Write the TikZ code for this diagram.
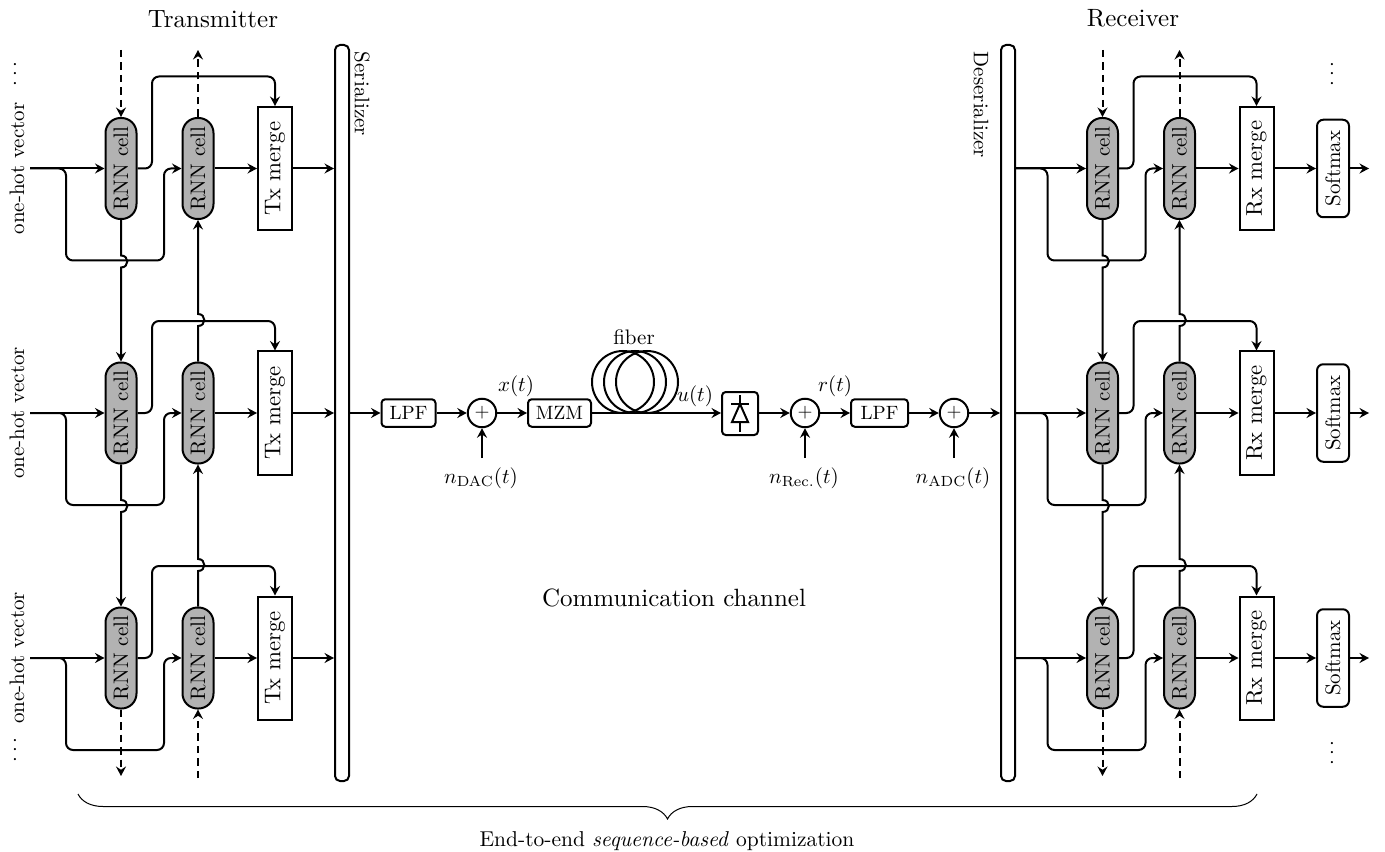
\documentclass[tikz,border=0pt]{standalone}
\usepackage{graphicx}
\usetikzlibrary{arrows.meta,decorations.pathreplacing}
\newcommand{\shr}[1]{\scalebox{0.84}{#1}}
\newcommand{\shrb}[1]{\scalebox{0.77}{#1}}
\newcommand{\rot}[1]{\rotatebox{90}{\shr{#1}}}
\newcommand{\rotg}[1]{\rotatebox{90}{\scalebox{0.91}{#1}}}
\newcommand{\rotm}[1]{\rotatebox{-90}{\shr{#1}}}
\tikzset{
	wire/.style={thick,rounded corners=2.8pt},
	dashwire/.style={thick,dash pattern=on 3pt off 2pt},
	rnncell/.style={draw,thick,fill=black!30,rounded corners=6pt,minimum width=12.4pt,minimum height=40.4pt,inner sep=0pt},
	mergebox/.style={draw,thick,minimum width=13.6pt,minimum height=49.2pt,inner sep=0pt},
	softbox/.style={draw,thick,rounded corners=2.5pt,minimum width=12.8pt,minimum height=39pt,inner sep=0pt},
	bar/.style={draw,thick,rounded corners=2pt,minimum width=5.6pt,minimum height=294.4pt,inner sep=0pt},
	block/.style={draw,thick,rounded corners=1.5pt,minimum height=11pt,inner sep=0pt},
	sumnode/.style={draw,thick,circle,minimum size=11.4pt,inner sep=0pt},
	coil/.style={draw,thick,circle,minimum size=24.8pt,inner sep=0pt},
	lab/.style={inner sep=0pt},
}
\begin{document}
\begin{tikzpicture}[>={Stealth[length=3.8pt,width=4pt,inset=1.3pt]},x=0.4pt,y=-0.4pt]
	\useasboundingbox (0,0) rectangle (1385,852);
	% serializer and deserializer
	\node[bar] (serial) at (342,413) {};
	\node[bar] (deserial) at (1008,413) {};
	\node[lab] (seriallab) at (362,94) {\rotm{Serializer}};
	\node[lab] (deseriallab) at (981,105) {\rotm{Deserializer}};
	\node[lab] (txlab) at (213,19) {Transmitter};
	\node[lab] (rxlab) at (1133,18) {Receiver};
	% inputs of the rows
	\foreach \i/\y in {1/168.5,2/413,3/658}{
		\coordinate (tin\i) at (30,\y);
		\coordinate (rin\i) at (deserial.east |- 0,\y);
		\node[lab] (hot\i) at (17,\y) {\rot{one-hot vector}};
	}
	% the rows of both sides
	\foreach \s/\dx/\m in {t/0/Tx,r/981.5/Rx}{
		\foreach \i/\y in {1/168.5,2/413,3/658}{
			\node[rnncell] (\s-a\i) at (121+\dx,\y) {\rot{RNN cell}};
			\node[rnncell] (\s-b\i) at (198+\dx,\y) {\rot{RNN cell}};
			\node[mergebox] (\s-m\i) at (275+\dx,\y) {\rotg{\m{} merge}};
			\draw[wire,->] (\s in\i) -- (\s-a\i.west);
			\draw[wire,->] (\s in\i) -- (66+\dx,\y) -- (66+\dx,\y+92) -- (164+\dx,\y+92) -- (164+\dx,\y) -- (\s-b\i.west);
			\draw[wire,->] (\s-a\i.east) -- (152+\dx,\y) -- (152+\dx,\y-92) -| (\s-m\i.north);
			\draw[wire,->] (\s-b\i.east) -- (\s-m\i.west);
		}
		% between the rows
		\foreach \i/\j in {1/2,2/3}{
			\draw[thick,->] (\s-a\i.south) -- ++(0,35.5) to[out=0,in=0,looseness=1.8] ++(0,12) -- (\s-a\j.north);
			\draw[thick,->] (\s-b\j.north) -- ++(0,-35.5) to[out=0,in=0,looseness=1.8] ++(0,-12) -- (\s-b\i.south);
		}
		% dashed ends
		\coordinate (\s-atop) at (121+\dx,50);
		\coordinate (\s-btop) at (198+\dx,50);
		\coordinate (\s-abot) at (121+\dx,776);
		\coordinate (\s-bbot) at (198+\dx,778);
		\draw[dashwire,->] (\s-atop) -- (\s-a1.north);
		\draw[dashwire,->] (\s-b1.north) -- (\s-btop);
		\draw[dashwire,->] (\s-a3.south) -- (\s-abot);
		\draw[dashwire,->] (\s-bbot) -- (\s-b3.south);
	}
	\foreach \i in {1,2,3}{
		\draw[wire,->] (t-m\i.east) -- (serial.west |- t-m\i.east);
		\node[softbox] (soft\i) at (1333,0 |- r-m\i) {\rot{Softmax}};
		\coordinate (out\i) at (1369,0 |- r-m\i);
		\draw[wire,->] (r-m\i.east) -- (soft\i.west);
		\draw[wire,->] (soft\i.east) -- (out\i);
	}
	\node[lab] (dotsA) at (15,74) {\rot{$\ldots$}};
	\node[lab] (dotsB) at (15,750) {\rot{$\ldots$}};
	\node[lab] (dotsC) at (1332,74) {\rot{$\ldots$}};
	\node[lab] (dotsD) at (1332,753) {\rot{$\ldots$}};
	% channel
	\node[block,minimum width=21.6pt] (lpfA) at (408.5,413) {\shrb{LPF}};
	\node[sumnode] (sumA) at (482,413) {\shrb{$+$}};
	\node[block,minimum width=25.2pt] (mzm) at (559.5,413) {\shrb{MZM}};
	\foreach \i/\x in {1/623,2/635,3/647}
		\node[coil] (coil\i) at (\x,382) {};
	\node[draw,thick,rounded corners=1.5pt,minimum width=14.4pt,minimum height=17.2pt,inner sep=0pt] (pd) at (740,413.5) {};
	\node[sumnode] (sumB) at (805,413) {\shrb{$+$}};
	\node[block,minimum width=22.8pt] (lpfB) at (879.5,413) {\shrb{LPF}};
	\node[sumnode] (sumC) at (954,413) {\shrb{$+$}};
	% photodiode symbol
	\draw[thick] (731,404) -- (749,404);
	\draw[thick] (740,404) -- (732,422) -- (748,422) -- cycle;
	\draw[thick] (740,395) -- (740,404);
	\draw[thick] (740,422) -- (740,432);
	\coordinate (nA) at (482,458);
	\coordinate (nB) at (805,458);
	\coordinate (nC) at (954,458);
	\draw[wire,->] (serial.east |- lpfA) -- (lpfA.west);
	\draw[wire,->] (lpfA) -- (sumA);
	\draw[wire,->] (sumA) -- (mzm);
	\draw[wire,->] (mzm) -- (pd.west |- mzm);
	\draw[wire,->] (pd.east |- sumB) -- (sumB);
	\draw[wire,->] (sumB) -- (lpfB);
	\draw[wire,->] (lpfB) -- (sumC);
	\draw[wire,->] (sumC) -- (deserial.west |- sumC);
	\draw[wire,->] (nA) -- (sumA);
	\draw[wire,->] (nB) -- (sumB);
	\draw[wire,->] (nC) -- (sumC);
	\node[lab] (labnA) at (481,478) {\shr{$n_{\mathrm{DAC}}(t)$}};
	\node[lab] (labnB) at (804,478) {\shr{$n_{\mathrm{Rec.}}(t)$}};
	\node[lab] (labnC) at (953,478) {\shr{$n_{\mathrm{ADC}}(t)$}};
	\node[lab] (labx) at (516,386) {\shr{$x(t)$}};
	\node[lab] (labu) at (695,396) {\shr{$u(t)$}};
	\node[lab] (labr) at (835,386) {\shr{$r(t)$}};
	\node[lab] (fiberlab) at (634,337) {\shr{fiber}};
	\node[lab] (chanlab) at (674,598) {Communication channel};
	% brace
	\coordinate (braceL) at (78,794);
	\coordinate (braceR) at (1257,794);
	\draw[decorate,decoration={brace,amplitude=10pt,mirror}] (braceL) -- (braceR);
	\node[lab] (optlab) at (667,841) {\scalebox{0.86}{End-to-end \textit{sequence-based} optimization}};
\end{tikzpicture}
\end{document}
